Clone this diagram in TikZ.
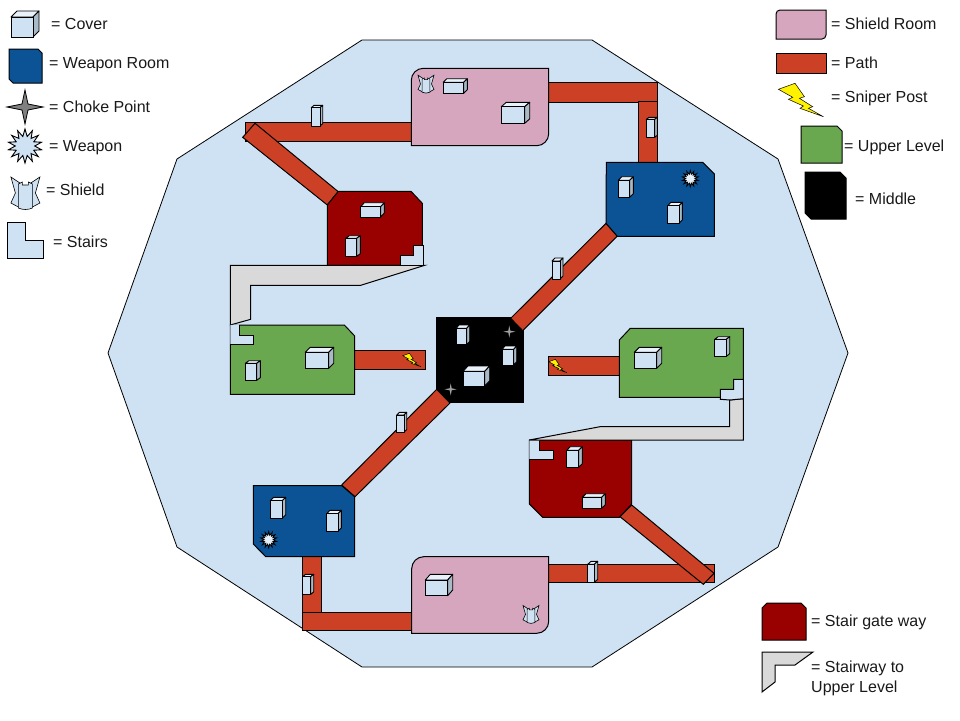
\documentclass[tikz,border=0pt]{standalone}
\usepackage{fontspec}
\setmainfont{Liberation Sans}
\usetikzlibrary{shapes.geometric}
\definecolor{floorblue}{HTML}{CFE2F3}
\definecolor{weaponblue}{HTML}{0B5394}
\definecolor{shieldpink}{HTML}{D5A6BD}
\definecolor{pathred}{HTML}{CC4125}
\definecolor{uppergreen}{HTML}{6AA84F}
\definecolor{gatered}{HTML}{990000}
\definecolor{stairgrey}{HTML}{D9D9D9}
\definecolor{chokegrey}{HTML}{808080}
\definecolor{coverside}{HTML}{A9B9C6}
\tikzstyle{label} = [font=\fontsize{16}{19.5}\selectfont, anchor=base west, inner sep=0pt, text=black!90, align=left]
\tikzstyle{floor} = [draw=black, fill=floorblue, line width=0.8pt]
\tikzstyle{walkway} = [draw=black, fill=pathred, line width=1pt]
\tikzstyle{weaponroom} = [draw=black, fill=weaponblue, line width=1pt]
\tikzstyle{shieldroom} = [draw=black, fill=shieldpink, line width=1pt]
\tikzstyle{upperroom} = [draw=black, fill=uppergreen, line width=1pt]
\tikzstyle{gateroom} = [draw=black, fill=gatered, line width=1pt]
\tikzstyle{middleroom} = [draw=black, fill=black, line width=1pt]
\tikzstyle{stairway} = [draw=black, fill=stairgrey, line width=1pt]
\tikzstyle{stairs} = [draw=black, fill=floorblue, line width=1pt]
\tikzstyle{weapon} = [star, star points=14, star point ratio=1.75, draw=black, inner sep=0pt, line width=0.9pt]
% x1 y1 x2 y2 = front face, x3 y3 = far top corner
\newcommand{\coverbox}[6]{
  \path[draw=black, fill=floorblue!45!white, line width=0.9pt, line join=round] (#1,#2) -- (#1+#5-#3,#6) -- (#5,#6) -- (#3,#2) -- cycle;
  \path[draw=black, fill=coverside, line width=0.9pt, line join=round] (#3,#2) -- (#5,#6) -- (#5,#4+#6-#2) -- (#3,#4) -- cycle;
  \path[draw=black, fill=floorblue, line width=0.9pt] (#1,#2) rectangle (#3,#4);
}
\tikzset{
  shield/.pic={
    \path[draw=black, fill=floorblue, line width=0.6pt] (-14.5,-16) -- (-4,-9) -- (-4,15) -- (-7,14) -- (-14.5,10) -- (-10,0) -- cycle;
    \path[draw=black, fill=floorblue, line width=0.6pt] (14.5,-16) -- (4,-9) -- (4,15) -- (7,14) -- (14.5,10) -- (10,0) -- cycle;
    \path[draw=black, fill=floorblue, line width=0.6pt] (-7,-9) -- (-3,-11) -- (-3,-8) -- (3,-8) -- (3,-11) -- (7,-9) -- (7,15) .. controls (3,17) and (-3,17) .. (-7,15) -- cycle;
  },
  bolt/.pic={
    \path[draw=black, fill=yellow, line width=0.5pt] (-22.3,-10.7) -- (-5.7,-16.7) -- (3.7,-3.3) -- (-1.3,-1.7) -- (12,6.7) -- (7.7,8.3) -- (22.7,16.7) -- (-0.7,8.3) -- (2.7,6) -- (-12.3,-0.7) -- (-8,-2.7) -- cycle;
  },
  choke/.pic={
    \path[draw=black, fill=chokegrey, line width=0.8pt] (-18,0) -- (-3,-3) -- (0,-17) -- (3,-3) -- (18,0) -- (3,3) -- (0,17) -- (-3,3) -- cycle;
  },
  glint/.pic={
    \path[fill=chokegrey!75!white] (-6,0) -- (-1,-1) -- (0,-6) -- (1,-1) -- (6,0) -- (1,1) -- (0,6) -- (-1,1) -- cycle;
  }
}
\begin{document}
\begin{tikzpicture}[x=1pt, y=-1pt]
  \useasboundingbox (0,0) rectangle (960,720);
  % arena
  \path[floor] (362,40) -- (592,40) -- (778,159) -- (848,353) -- (778,547) -- (592,667) -- (362,667) -- (177,547) -- (108,353) -- (177,159) -- cycle;

  % paths
  \path[walkway] (245.3,122.3) rectangle (411.3,141);
  \path[walkway] (255,123.3) -- (338.3,191.7) -- (327.3,205) -- (242.7,137.3) -- cycle;
  \path[walkway] (548.7,82.7) rectangle (657.7,102.3);
  \path[walkway] (638.7,101.7) rectangle (657.7,162.3);
  \path[walkway] (354.7,350.7) rectangle (425.7,369.3);
  \path[walkway] (548.3,356.7) rectangle (619.3,375.3);
  \path[walkway] (548.3,564.3) rectangle (714.3,582.3);
  \path[walkway] (631.7,505) -- (714,573.3) -- (703.3,584.3) -- (620,516.7) -- cycle;
  \path[walkway] (302.3,556.7) rectangle (321.3,612.7);
  \path[walkway] (302.3,612.7) rectangle (411.7,630.3);

  % middle
  \path[middleroom] (436,317.3) rectangle (523.7,402.7);
  \path[walkway] (510.7,318.3) -- (606,223.3) -- (617.3,236) -- (522.7,330.7) -- cycle;
  \path[walkway] (436.7,389.3) -- (341.7,485) -- (355,496.7) -- (450,403) -- cycle;
  \pic at (509.3,331.7) {glint};
  \pic at (450.7,389.3) {glint};

  % rooms
  \path[shieldroom] (411.3,145.7) -- (411.3,80.3) .. controls (411.3,73.7) and (416.7,68.3) .. (423.3,68.3) -- (548.7,68.3) -- (548.7,133.7) .. controls (548.7,140.3) and (543.3,145.7) .. (536.7,145.7) -- cycle;
  \path[shieldroom] (411.7,633.3) -- (411.7,568.7) .. controls (411.7,562.1) and (417.1,556.7) .. (423.7,556.7) -- (548.7,556.7) -- (548.7,621.3) .. controls (548.7,627.9) and (543.3,633.3) .. (536.7,633.3) -- cycle;
  \path[gateroom] (338.3,191.3) -- (411,191.3) -- (422.3,203.3) -- (422.3,265.3) -- (327.3,265.3) -- (327.3,205) -- cycle;
  \path[gateroom] (529.3,440) -- (631.7,440) -- (631.7,504) -- (619.3,517.3) -- (542.7,517.3) -- (529.3,504) -- cycle;
  \path[upperroom] (230.3,325) -- (344.3,325) -- (354.7,336) -- (354.7,394.3) -- (230.3,394.3) -- cycle;
  \path[upperroom] (619.3,340) -- (630.3,328.3) -- (743.3,328.3) -- (743.3,397.3) -- (619.3,397.3) -- cycle;
  \path[weaponroom] (606.3,162.3) -- (702.7,162.3) -- (714.3,174) -- (714.3,236.3) -- (617.3,236.3) -- (606,223.3) -- cycle;
  \path[weaponroom] (253.3,485.7) -- (341.7,485.7) -- (354.7,496.7) -- (354.7,556.7) -- (265.7,556.7) -- (253.3,544) -- cycle;

  % stairs
  \path[stairway] (230.3,265.3) -- (424.7,265.3) -- (360.7,285.3) -- (250.7,285.3) -- (250.7,319.3) -- (230.3,325) -- cycle;
  \path[stairway] (529.3,440) -- (600,426.7) -- (729.7,426.7) -- (729.7,400) -- (743.3,398.7) -- (743.3,440) -- cycle;
  \path[stairs] (413.7,245.7) -- (423.3,245.7) -- (423.3,265.3) -- (400,265.3) -- (400,255.7) -- (413.7,255.7) -- cycle;
  \path[stairs, draw=none] (230.3,325) -- (239.3,324.3) -- (239.3,335) -- (253.7,335) -- (253.7,344.7) -- (230.3,344.7) -- cycle;
  \draw[line width=1pt] (239.3,325) -- (239.3,335) -- (253.7,335) -- (253.7,344.7) -- (230.3,344.7);
  \path[stairs] (733.7,379.3) -- (743.3,379.3) -- (743.3,398.7) -- (730,400) -- (720.3,399.3) -- (720.3,389.3) -- (733.7,389.3) -- cycle;
  \path[stairs, draw=none] (529.3,440.7) -- (539.3,440.7) -- (539.3,450.3) -- (553.7,450.3) -- (553.7,459.3) -- (529.3,459.3) -- cycle;
  \draw[line width=1pt] (539.3,440.7) -- (539.3,450.3) -- (553.7,450.3) -- (553.7,459.3) -- (529.3,459.3);

  % cover
  \coverbox{311.3}{107.7}{320}{126}{322.7}{105.3}
  \coverbox{443.3}{82.3}{463.7}{93.3}{467.3}{78.7}
  \coverbox{501.3}{106.7}{524.7}{123.3}{529.7}{102.3}
  \coverbox{360.7}{206.7}{380.7}{217}{384.3}{202.7}
  \coverbox{345.7}{238.3}{356.7}{256.3}{360.3}{235.7}
  \coverbox{305.3}{352.3}{328.7}{368.3}{333.7}{347.3}
  \coverbox{245.3}{363.3}{256.7}{380.3}{260.3}{360.7}
  \coverbox{456}{328.3}{466.7}{344.7}{469.7}{325}
  \coverbox{502}{349.3}{513.7}{365}{516.7}{346}
  \coverbox{463}{371.3}{484.7}{386}{489.7}{366}
  \coverbox{552}{261}{560}{279}{563}{258}
  \coverbox{396.7}{415}{404}{432.3}{406.7}{412.3}
  \coverbox{634.3}{352.3}{656.7}{368.3}{661.7}{347.3}
  \coverbox{714.7}{339.3}{726.3}{356.3}{729.7}{336.7}
  \coverbox{566.7}{450.3}{578.7}{467.3}{582.3}{446.7}
  \coverbox{582.3}{497.3}{601.7}{508.3}{605.3}{493.7}
  \coverbox{270.3}{500.7}{282.3}{518.3}{285.7}{497.3}
  \coverbox{326.7}{513.7}{338}{531.3}{341.3}{510.3}
  \coverbox{302.7}{576.7}{310.7}{594.3}{313.7}{574.3}
  \coverbox{425.3}{580}{447.7}{595.7}{452.7}{574.3}
  \coverbox{646.3}{119.3}{654.7}{137.3}{657.3}{117.3}
  \coverbox{618.3}{180.3}{629.7}{197.3}{633.3}{176.7}
  \coverbox{667.7}{205.7}{679}{223.3}{682.3}{202.3}
  \coverbox{587.7}{564.3}{594.3}{582.3}{597.7}{561.3}

  % items
  \pic[scale=0.55] at (426,84) {shield};
  \pic[scale=0.55] at (531,614.3) {shield};
  \pic[scale=0.4] at (411.7,360) {bolt};
  \pic[scale=0.4] at (557.7,366) {bolt};
  \node (weapon top) [weapon, fill=floorblue!50!white, minimum size=16pt] at (690.3,178.7) {};
  \node (weapon bottom) [weapon, fill=floorblue!50!white, minimum size=16pt] at (268.7,539.7) {};

  % legend left
  \coverbox{11}{17}{33}{37}{39}{11}
  \path[weaponroom] (9,49) -- (38,49) -- (42,53) -- (42,83) -- (13,83) -- (9,79) -- cycle;
  \pic at (25,107) {choke};
  \node (weapon key) [weapon, fill=floorblue, minimum size=34pt] at (25,146) {};
  \pic at (25.4,193) {shield};
  \path[stairs] (7,222) -- (25,222) -- (25,240) -- (43,240) -- (43,258) -- (7,258) -- cycle;
  \node (cover label) [label] at (51,29) {= Cover};
  \node (weaponroom label) [label] at (49,68) {= Weapon Room};
  \node (choke label) [label] at (49,112) {= Choke Point};
  \node (weapon label) [label] at (49,151) {= Weapon};
  \node (shield label) [label] at (46,195) {= Shield};
  \node (stairs label) [label] at (53,247) {= Stairs};

  % legend right
  \path[shieldroom] (776,39) -- (776,14) .. controls (776,11.8) and (777.8,10) .. (780,10) -- (826,10) -- (826,35) .. controls (826,37.2) and (824.2,39) .. (822,39) -- cycle;
  \path[walkway] (776,53) rectangle (826,73);
  \pic at (800.7,100) {bolt};
  \path[upperroom] (801,126) -- (837,126) -- (842,131) -- (842,163) -- (801,163) -- cycle;
  \path[middleroom] (805,172) -- (840,172) -- (846,178) -- (846,219) -- (811,219) -- (805,213) -- cycle;
  \path[gateroom] (767,603) -- (801,603) -- (806,608) -- (806,640) -- (762,640) -- (762,608) -- cycle;
  \path[stairway] (762,652) -- (813,652) -- (795,665) -- (775,665) -- (775,682) -- (762,692) -- cycle;
  \node (shieldroom label) [label] at (831,29) {= Shield Room};
  \node (path label) [label] at (831,68) {= Path};
  \node (sniper label) [label] at (831,102) {= Sniper Post};
  \node (upper label) [label] at (844,151) {= Upper Level};
  \node (middle label) [label] at (855,204) {= Middle};
  \node (gate label) [label] at (811,626) {= Stair gate way};
  \node (stairway label) [label] at (811,692) {= Stairway to\\Upper Level};
\end{tikzpicture}
\end{document}
